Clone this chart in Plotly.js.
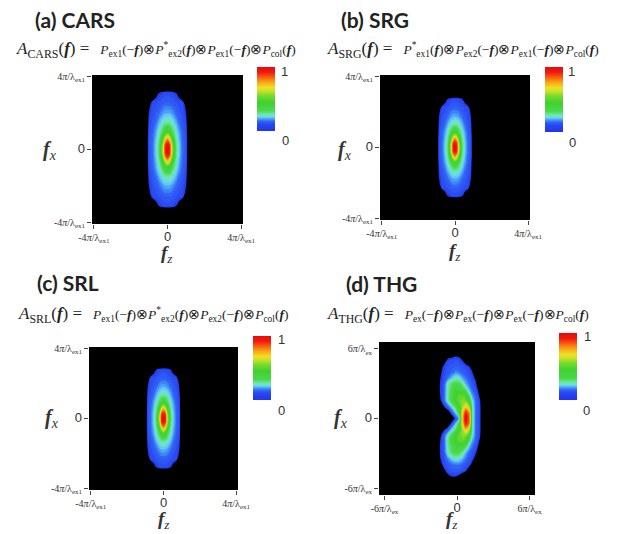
<!DOCTYPE html>
<html><head><meta charset="utf-8">
<script src="https://cdn.plot.ly/plotly-3.0.1.min.js"></script>
<style>body{margin:0;background:#fff}#chart{width:622px;height:534px}</style>
</head><body><div id="chart"></div>
<script>
// ---------- colour bar (value -> colour) ----------
const CB_VALUES = [0, 0.10, 0.15, 0.19, 0.22, 0.26, 0.32, 0.45, 0.55, 0.62, 0.68, 0.76, 0.84, 0.92, 1.0];
const CB_COLORS = ['#2234e8','#2846f2','#3262f6','#4aa2f6','#6cd8f0','#6ee8a8','#4cd84a','#40d030','#74dc2c','#c4e02c','#f0e020','#f8a818','#f86010','#f01810','#e80c0c'];

// ---------- (a) CARS ----------
const CARS_FZ = [-1.2,-1.0,-0.8,-0.63,-0.45,-0.22,-0.11,0,0.11,0.22,0.45,0.63,0.8,1.0,1.2];
const CARS_FX = [-3.45,-3.1,-2.6,-2.0,-1.5,-1.0,-0.5,-0.25,0,0.25,0.5,1.0,1.5,2.0,2.6,3.1,3.45];
const CARS_Z = [
 [0,0,0,0,0,0,0,0,0,0,0,0,0,0,0],
 [0,0,0,0.05,0.085,0.104,0.108,0.11,0.108,0.104,0.085,0.05,0,0,0],
 [0,0.05,0.1,0.11,0.12,0.135,0.14,0.14,0.14,0.135,0.12,0.11,0.1,0.05,0],
 [0,0.085,0.115,0.135,0.155,0.19,0.198,0.2,0.198,0.19,0.155,0.135,0.115,0.085,0],
 [0,0.1,0.13,0.155,0.2,0.245,0.255,0.26,0.255,0.245,0.2,0.155,0.13,0.1,0],
 [0,0.11,0.145,0.19,0.24,0.34,0.40,0.43,0.40,0.34,0.24,0.19,0.145,0.11,0],
 [0,0.12,0.155,0.21,0.28,0.54,0.74,0.84,0.74,0.54,0.28,0.21,0.155,0.12,0],
 [0,0.12,0.16,0.22,0.29,0.63,0.91,0.95,0.91,0.63,0.29,0.22,0.16,0.12,0],
 [0,0.12,0.16,0.22,0.3,0.66,0.93,1.0,0.93,0.66,0.3,0.22,0.16,0.12,0],
 [0,0.12,0.16,0.22,0.29,0.63,0.91,0.95,0.91,0.63,0.29,0.22,0.16,0.12,0],
 [0,0.12,0.155,0.21,0.28,0.54,0.74,0.84,0.74,0.54,0.28,0.21,0.155,0.12,0],
 [0,0.11,0.145,0.19,0.24,0.34,0.40,0.43,0.40,0.34,0.24,0.19,0.145,0.11,0],
 [0,0.1,0.13,0.155,0.2,0.245,0.255,0.26,0.255,0.245,0.2,0.155,0.13,0.1,0],
 [0,0.085,0.115,0.135,0.155,0.19,0.198,0.2,0.198,0.19,0.155,0.135,0.115,0.085,0],
 [0,0.05,0.1,0.11,0.12,0.135,0.14,0.14,0.14,0.135,0.12,0.11,0.1,0.05,0],
 [0,0,0,0.05,0.085,0.104,0.108,0.11,0.108,0.104,0.085,0.05,0,0,0],
 [0,0,0,0,0,0,0,0,0,0,0,0,0,0,0]
];

// ---------- (b) SRG ----------
const SRG_FZ = [-1.03,-0.86,-0.69,-0.54,-0.39,-0.19,-0.095,0,0.095,0.19,0.39,0.54,0.69,0.86,1.03];
const SRG_FX = [-3.04,-2.73,-2.29,-1.76,-1.32,-0.88,-0.44,-0.22,0,0.22,0.44,0.88,1.32,1.76,2.29,2.73,3.04];
const SRG_Z = [
 [0,0,0,0,0,0,0,0,0,0,0,0,0,0,0],
 [0,0,0,0.05,0.085,0.104,0.108,0.11,0.108,0.104,0.085,0.05,0,0,0],
 [0,0.05,0.1,0.11,0.12,0.135,0.14,0.14,0.14,0.135,0.12,0.11,0.1,0.05,0],
 [0,0.085,0.115,0.135,0.155,0.19,0.198,0.2,0.198,0.19,0.155,0.135,0.115,0.085,0],
 [0,0.1,0.13,0.155,0.2,0.245,0.255,0.26,0.255,0.245,0.2,0.155,0.13,0.1,0],
 [0,0.11,0.145,0.19,0.24,0.34,0.40,0.43,0.40,0.34,0.24,0.19,0.145,0.11,0],
 [0,0.12,0.155,0.21,0.28,0.54,0.74,0.84,0.74,0.54,0.28,0.21,0.155,0.12,0],
 [0,0.12,0.16,0.22,0.29,0.63,0.91,0.95,0.91,0.63,0.29,0.22,0.16,0.12,0],
 [0,0.12,0.16,0.22,0.3,0.66,0.93,1.0,0.93,0.66,0.3,0.22,0.16,0.12,0],
 [0,0.12,0.16,0.22,0.29,0.63,0.91,0.95,0.91,0.63,0.29,0.22,0.16,0.12,0],
 [0,0.12,0.155,0.21,0.28,0.54,0.74,0.84,0.74,0.54,0.28,0.21,0.155,0.12,0],
 [0,0.11,0.145,0.19,0.24,0.34,0.40,0.43,0.40,0.34,0.24,0.19,0.145,0.11,0],
 [0,0.1,0.13,0.155,0.2,0.245,0.255,0.26,0.255,0.245,0.2,0.155,0.13,0.1,0],
 [0,0.085,0.115,0.135,0.155,0.19,0.198,0.2,0.198,0.19,0.155,0.135,0.115,0.085,0],
 [0,0.05,0.1,0.11,0.12,0.135,0.14,0.14,0.14,0.135,0.12,0.11,0.1,0.05,0],
 [0,0,0,0.05,0.085,0.104,0.108,0.11,0.108,0.104,0.085,0.05,0,0,0],
 [0,0,0,0,0,0,0,0,0,0,0,0,0,0,0]
];

// ---------- (c) SRL ----------
const SRL_FZ = [-1.03,-0.86,-0.69,-0.54,-0.39,-0.19,-0.095,0,0.095,0.19,0.39,0.54,0.69,0.86,1.03];
const SRL_FX = [-3.1,-2.79,-2.34,-1.8,-1.35,-0.9,-0.45,-0.22,0,0.22,0.45,0.9,1.35,1.8,2.34,2.79,3.1];
const SRL_Z = [
 [0,0,0,0,0,0,0,0,0,0,0,0,0,0,0],
 [0,0,0,0.05,0.085,0.104,0.108,0.11,0.108,0.104,0.085,0.05,0,0,0],
 [0,0.05,0.1,0.11,0.12,0.135,0.14,0.14,0.14,0.135,0.12,0.11,0.1,0.05,0],
 [0,0.085,0.115,0.135,0.155,0.19,0.198,0.2,0.198,0.19,0.155,0.135,0.115,0.085,0],
 [0,0.1,0.13,0.155,0.2,0.245,0.255,0.26,0.255,0.245,0.2,0.155,0.13,0.1,0],
 [0,0.11,0.145,0.19,0.24,0.34,0.40,0.43,0.40,0.34,0.24,0.19,0.145,0.11,0],
 [0,0.12,0.155,0.21,0.28,0.54,0.74,0.84,0.74,0.54,0.28,0.21,0.155,0.12,0],
 [0,0.12,0.16,0.22,0.29,0.63,0.91,0.95,0.91,0.63,0.29,0.22,0.16,0.12,0],
 [0,0.12,0.16,0.22,0.3,0.66,0.93,1.0,0.93,0.66,0.3,0.22,0.16,0.12,0],
 [0,0.12,0.16,0.22,0.29,0.63,0.91,0.95,0.91,0.63,0.29,0.22,0.16,0.12,0],
 [0,0.12,0.155,0.21,0.28,0.54,0.74,0.84,0.74,0.54,0.28,0.21,0.155,0.12,0],
 [0,0.11,0.145,0.19,0.24,0.34,0.40,0.43,0.40,0.34,0.24,0.19,0.145,0.11,0],
 [0,0.1,0.13,0.155,0.2,0.245,0.255,0.26,0.255,0.245,0.2,0.155,0.13,0.1,0],
 [0,0.085,0.115,0.135,0.155,0.19,0.198,0.2,0.198,0.19,0.155,0.135,0.115,0.085,0],
 [0,0.05,0.1,0.11,0.12,0.135,0.14,0.14,0.14,0.135,0.12,0.11,0.1,0.05,0],
 [0,0,0,0.05,0.085,0.104,0.108,0.11,0.108,0.104,0.085,0.05,0,0,0],
 [0,0,0,0,0,0,0,0,0,0,0,0,0,0,0]
];

// ---------- (d) THG ----------
const THG_FZ = [-1.8,-1.45,-1.1,-0.75,-0.4,-0.1,0.2,0.45,0.72,1.0,1.25,1.55,1.85,2.2];
const THG_FX = [-5.4,-5.0,-4.5,-4.0,-3.5,-3.0,-2.5,-2.0,-1.5,-1.0,-0.5,0,0.5,1.0,1.5,2.0,2.5,3.0,3.5,4.0,4.5,5.0,5.6];
const THG_Z = [
 [0,0,0,0,0,0,0,0,0,0,0,0,0,0],
 [0,0,0,0.06,0.08,0.08,0.06,0.03,0,0,0,0,0,0],
 [0,0,0.06,0.11,0.13,0.135,0.13,0.115,0.09,0.04,0,0,0,0],
 [0,0.04,0.1,0.13,0.15,0.16,0.155,0.14,0.125,0.1,0.06,0,0,0],
 [0,0.07,0.11,0.17,0.22,0.24,0.23,0.2,0.16,0.13,0.1,0.05,0,0],
 [0,0.075,0.12,0.24,0.3,0.32,0.31,0.26,0.2,0.15,0.12,0.085,0.02,0],
 [0,0.075,0.13,0.26,0.33,0.38,0.38,0.35,0.3,0.2,0.15,0.11,0.055,0],
 [0,0.07,0.13,0.27,0.36,0.45,0.5,0.5,0.45,0.3,0.19,0.14,0.075,0],
 [0,0.05,0.13,0.25,0.36,0.45,0.52,0.56,0.55,0.42,0.24,0.15,0.1,0],
 [0,0.02,0.07,0.14,0.23,0.32,0.45,0.58,0.7,0.6,0.27,0.15,0.11,0],
 [0,0,0,0.03,0.13,0.22,0.38,0.66,0.93,0.8,0.28,0.15,0.11,0],
 [0,0,0,0,0.03,0.12,0.21,0.7,1.0,0.84,0.28,0.15,0.11,0],
 [0,0,0,0.03,0.13,0.22,0.38,0.66,0.93,0.8,0.28,0.15,0.11,0],
 [0,0.02,0.07,0.14,0.23,0.32,0.45,0.58,0.7,0.6,0.27,0.15,0.11,0],
 [0,0.05,0.13,0.25,0.36,0.45,0.52,0.56,0.55,0.42,0.24,0.15,0.1,0],
 [0,0.07,0.13,0.27,0.36,0.45,0.5,0.5,0.45,0.3,0.19,0.14,0.075,0],
 [0,0.075,0.13,0.26,0.33,0.38,0.38,0.35,0.3,0.2,0.15,0.11,0.055,0],
 [0,0.075,0.12,0.25,0.31,0.33,0.32,0.27,0.2,0.16,0.13,0.09,0.02,0],
 [0,0.07,0.11,0.16,0.21,0.24,0.23,0.19,0.16,0.13,0.1,0.07,0,0],
 [0,0.06,0.1,0.13,0.15,0.17,0.16,0.14,0.13,0.11,0.085,0.03,0,0],
 [0,0.03,0.09,0.12,0.13,0.14,0.13,0.12,0.11,0.08,0.03,0,0,0],
 [0,0,0.04,0.1,0.11,0.12,0.11,0.08,0.03,0,0,0,0,0],
 [0,0,0,0.02,0.04,0.05,0.04,0,0,0,0,0,0,0]
];

// ---------- tick labels ----------
const TICKS_4 = [-4, 0, 4];
const TICKS_6 = [-6, 0, 6];
const ZERO = '<span style="font-size:13px;font-family:\'Liberation Sans\'">0</span>';
const TICKTEXT_4 = ['-4<i>π</i>/λ<sub>ex1</sub>', ZERO, '4<i>π</i>/λ<sub>ex1</sub>'];
const TICKTEXT_6 = ['-6<i>π</i>/λ<sub>ex</sub>', ZERO, '6<i>π</i>/λ<sub>ex</sub>'];

// ---------- titles / formulas ----------
const TITLES = ['(a) CARS', '(b) SRG', '(c) SRL', '(d) THG'];
const F = '(<b><i>f</i></b>)', MF = '(−<b><i>f</i></b>)';
const BIG = s => '<span style="font-size:17px">' + s + '</span>';
const FORMULAS = [
  BIG('<i>A</i><sub>CARS</sub>' + F + ' = ') + '  <i>P</i><sub>ex1</sub>' + MF + '⊗<i>P</i><sup>*</sup><sub>ex2</sub>' + F + '⊗<i>P</i><sub>ex1</sub>' + MF + '⊗<i>P</i><sub>col</sub>' + F,
  BIG('<i>A</i><sub>SRG</sub>' + F + ' = ') + '  <i>P</i><sup>*</sup><sub>ex1</sub>' + F + '⊗<i>P</i><sub>ex2</sub>' + MF + '⊗<i>P</i><sub>ex1</sub>' + MF + '⊗<i>P</i><sub>col</sub>' + F,
  BIG('<i>A</i><sub>SRL</sub>' + F + ' = ') + '  <i>P</i><sub>ex1</sub>' + MF + '⊗<i>P</i><sup>*</sup><sub>ex2</sub>' + F + '⊗<i>P</i><sub>ex2</sub>' + MF + '⊗<i>P</i><sub>col</sub>' + F,
  BIG('<i>A</i><sub>THG</sub>' + F + ' = ') + '  <i>P</i><sub>ex</sub>' + MF + '⊗<i>P</i><sub>ex</sub>' + MF + '⊗<i>P</i><sub>ex</sub>' + MF + '⊗<i>P</i><sub>col</sub>' + F
];

// ---------- contour levels ----------
const LEVEL_START = 0.08, LEVEL_SIZE = 0.02, LEVEL_END = 1.0;

// ---------- layout geometry (pixels) ----------
const W = 622, H = 534;
const PANELS = [
  {fz: CARS_FZ, fx: CARS_FX, z: CARS_Z, rect: [92, 75, 243, 224], range: [[-4.1, 4.1], [-4.1, 4.1]], tv: TICKS_4, tt: TICKTEXT_4,
   cb: [257, 67, 64], one: [279, 71], zero: [280, 140], title: [33, 20], formula: [14, 50], fxl: [50, 150], fzl: [167, 254]},
  {fz: SRG_FZ, fx: SRG_FX, z: SRG_Z, rect: [380, 75, 530, 220], range: [[-4.1, 4.1], [-4.1, 4.1]], tv: TICKS_4, tt: TICKTEXT_4,
   cb: [545, 67, 65], one: [566, 71], zero: [567, 142], title: [339, 20], formula: [325, 50], fxl: [345, 150], fzl: [455, 252]},
  {fz: SRL_FZ, fx: SRL_FX, z: SRL_Z, rect: [89, 347, 238, 490], range: [[-4.1, 4.1], [-4.1, 4.1]], tv: TICKS_4, tt: TICKTEXT_4,
   cb: [253, 336, 64], one: [276, 339], zero: [276, 410], title: [35, 282], formula: [16, 315], fxl: [52, 418], fzl: [164, 520]},
  {fz: THG_FZ, fx: THG_FX, z: THG_Z, rect: [379, 342, 535, 495], range: [[-6.45, 6.45], [-6.6, 6.6]], tv: TICKS_6, tt: TICKTEXT_6,
   cb: [559, 333, 67], one: [582, 336], zero: [581, 410], title: [344, 283], formula: [325, 315], fxl: [341, 418], fzl: [452, 520]}
];

const px = p => p / W, py = p => 1 - p / H;

// colourscale for the filled contours: black below the lowest level, then the colour bar's scale
function fillScale() {
  const nc = Math.floor((LEVEL_END + LEVEL_SIZE / 1e6 - LEVEL_START) / LEVEL_SIZE) + 1;
  const sOf = v => ((v - LEVEL_START) / LEVEL_SIZE + 0.5) / nc;
  const s0 = 0.5 / nc;
  const sc = [[0, '#000000'], [s0 * 0.98, '#000000'], [s0, CB_COLORS[0]]];
  CB_VALUES.forEach((v, i) => { const s = sOf(v); if (s > s0 && s < 1) sc.push([s, CB_COLORS[i]]); });
  sc.push([1, CB_COLORS[CB_COLORS.length - 1]]);
  return sc;
}
const CB_SCALE = CB_VALUES.map((v, i) => [v, CB_COLORS[i]]);
const FILL_SCALE = fillScale();

const traces = [], annotations = [];
const layout = {
  width: W, height: H, margin: {l: 0, r: 0, t: 0, b: 0},
  paper_bgcolor: '#ffffff', plot_bgcolor: '#000000', showlegend: false,
  font: {family: 'Liberation Serif', color: '#333333'}
};

PANELS.forEach((p, i) => {
  const k = i === 0 ? '' : String(i + 1);
  const xa = 'x' + k, ya = 'y' + k;
  const [l, t, r, b] = p.rect;
  const tickfont = {family: 'Liberation Serif', size: 10, color: '#333'};
  layout['xaxis' + k] = {
    domain: [px(l), px(r)], anchor: ya, range: p.range[0], tickvals: p.tv, ticktext: p.tt,
    ticks: 'outside', ticklen: 4, tickcolor: '#444', showgrid: false, zeroline: false, showline: false,
    tickfont: tickfont, fixedrange: true
  };
  layout['yaxis' + k] = {
    domain: [py(b), py(t)], anchor: xa, range: p.range[1], tickvals: p.tv, ticktext: p.tt,
    ticks: 'outside', ticklen: 4, tickcolor: '#444', showgrid: false, zeroline: false, showline: false,
    tickfont: tickfont, fixedrange: true
  };
  traces.push({
    type: 'contour', x: p.fz, y: p.fx, z: p.z, xaxis: xa, yaxis: ya,
    autocontour: false,
    contours: {start: LEVEL_START, end: LEVEL_END, size: LEVEL_SIZE, coloring: 'fill', showlines: false},
    line: {width: 0, smoothing: 1.3},
    colorscale: FILL_SCALE, showscale: false, hoverinfo: 'skip'
  });
  traces.push({
    type: 'scatter', mode: 'markers', x: [0], y: [0], xaxis: xa, yaxis: ya, hoverinfo: 'skip',
    marker: {size: 1, opacity: 0, color: [0], cmin: 0, cmax: 1, colorscale: CB_SCALE, showscale: true,
      colorbar: {x: px(p.cb[0]), xanchor: 'left', y: py(p.cb[1]), yanchor: 'top', len: p.cb[2], lenmode: 'pixels',
        thickness: 18, thicknessmode: 'pixels', xpad: 0, ypad: 0, outlinewidth: 0, ticks: '', showticklabels: false}}
  });
  const ann = (pos, text, font, xanchor) => annotations.push({
    xref: 'paper', yref: 'paper', x: px(pos[0]), y: py(pos[1]), text: text, showarrow: false,
    xanchor: xanchor || 'center', yanchor: 'middle', font: font
  });
  ann(p.one, '1', {family: 'Liberation Sans', size: 13, color: '#333'}, 'left');
  ann(p.zero, '0', {family: 'Liberation Sans', size: 13, color: '#333'}, 'left');
  ann(p.title, '<b>' + TITLES[i] + '</b>', {family: 'Lato', size: 21, color: '#222'}, 'left');
  ann(p.formula, FORMULAS[i], {family: 'Liberation Serif', size: 13.5, color: '#222'}, 'left');
  ann(p.fxl, '<b><i>f</i></b><sub><i>x</i></sub>', {family: 'Liberation Serif', size: 20, color: '#333'});
  ann(p.fzl, '<b><i>f</i></b><sub><i>z</i></sub>', {family: 'Liberation Serif', size: 19, color: '#333'});
});
layout.annotations = annotations;

Plotly.newPlot('chart', traces, layout, {displayModeBar: false, staticPlot: true});
</script></body></html>
